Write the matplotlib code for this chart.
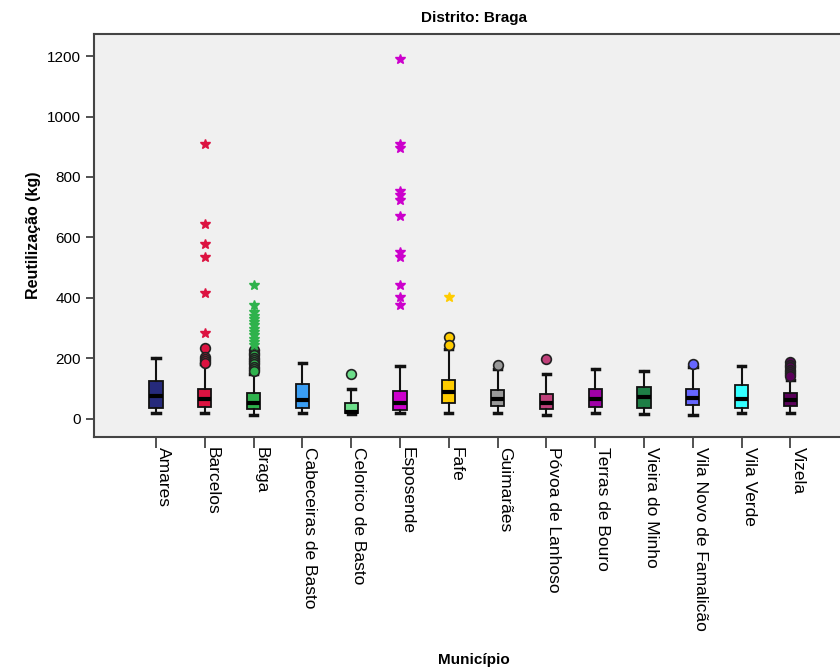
import numpy as np
import matplotlib.pyplot as plt

# Box summaries per municipality (kg)
municipios = ["Amares", "Barcelos", "Braga", "Cabeceiras de Basto", "Celorico de Basto",
              "Esposende", "Fafe", "Guimarães", "Póvoa de Lanhoso", "Terras de Bouro",
              "Vieira do Minho", "Vila Novo de Famalicão", "Vila Verde", "Vizela"]
q1 = [37, 40, 34, 35, 18, 29, 54, 43, 32, 40, 37, 47, 37, 43]
med = [76, 65, 54, 64, 22, 51, 89, 65, 54, 67, 71, 69, 65, 62]
q3 = [126, 98, 85, 115, 54, 93, 128, 96, 82, 100, 104, 98, 113, 84]
wlo = [18, 18, 13, 18, 15, 18, 18, 18, 13, 20, 15, 13, 18, 18]
whi = [200, 180, 150, 184, 98, 176, 231, 165, 150, 165, 157, 170, 176, 130]

# outliers (circles) and extremes (stars)
outliers = [[], [233, 205, 198, 190, 184],
            [228, 218, 210, 202, 195, 188, 180, 172, 165, 158],
            [], [148], [], [272, 244], [178], [198], [], [], [181], [],
            [187, 178, 170, 162, 155, 148, 141]]
extremos = [[], [910, 645, 578, 537, 417, 284],
            [444, 377, 352, 340, 330, 320, 310, 298, 288, 276, 265, 254, 244],
            [], [], [1190, 910, 897, 753, 739, 725, 671, 551, 537, 444, 404, 377],
            [404], [], [], [], [], [], [], []]

cores = ["#262A7C", "#DC1240", "#2EB24C", "#3A9EF4", "#6CDE8A", "#CC00CC", "#FFCC00",
         "#999999", "#C0407A", "#A000A8", "#1E7F46", "#6666FF", "#33FFFF", "#5A005A"]

plt.rcParams['font.family'] = ['Liberation Sans', 'DejaVu Sans']

fig = plt.figure(figsize=(8.4, 6.7), dpi=100)
ax = fig.add_axes([94 / 840, 1 - 437 / 670, (850 - 94) / 840, (437 - 34) / 670])
ax.set_facecolor("#F0F0F0")

stats = []
for i in range(len(municipios)):
    stats.append({"q1": q1[i], "med": med[i], "q3": q3[i],
                  "whislo": wlo[i], "whishi": whi[i], "fliers": []})

pos = np.arange(len(municipios))
bp = ax.bxp(stats, positions=pos, widths=0.27, patch_artist=True, showfliers=False,
            boxprops=dict(edgecolor="#111111", linewidth=1.3),
            medianprops=dict(color="black", linewidth=3, solid_capstyle="butt"),
            whiskerprops=dict(color="#111111", linewidth=1.5),
            capprops=dict(color="#111111", linewidth=2.5), capwidths=0.15)
for patch, c in zip(bp["boxes"], cores):
    patch.set_facecolor(c)

for i in range(len(municipios)):
    if outliers[i]:
        ax.plot([pos[i]] * len(outliers[i]), outliers[i], "o", ms=7,
                mfc=cores[i], mec="#222222", mew=1.2, zorder=3)
    if extremos[i]:
        ax.plot([pos[i]] * len(extremos[i]), extremos[i], "*", ms=7.5,
                color=cores[i], mec=cores[i], zorder=3)

ax.set_xlim(-1.27, 14.22)
ax.set_ylim(-60, 1273)
ax.set_yticks([0, 200, 400, 600, 800, 1000, 1200])
ax.set_xticks(pos)
ax.set_xticklabels(municipios, rotation=-90, ha="left", fontsize=12.5)
ax.tick_params(axis="y", labelsize=11, length=6, width=1.2, color="#333333")
ax.tick_params(axis="x", length=8, width=1.2, color="#333333", pad=-1)

for s in ax.spines.values():
    s.set_color("#444444")
    s.set_linewidth(1.5)

ax.set_ylabel("Reutilização (kg)", fontsize=11.5, fontweight="bold", labelpad=4)
fig.text(474 / 840, 1 - 660 / 670, "Município", ha="center", va="center",
         fontsize=11, fontweight="bold")
fig.text(474 / 840, 1 - 18 / 670, "Distrito: Braga", ha="center", va="center",
         fontsize=11, fontweight="bold")

fig.savefig("out.png", dpi=100)
